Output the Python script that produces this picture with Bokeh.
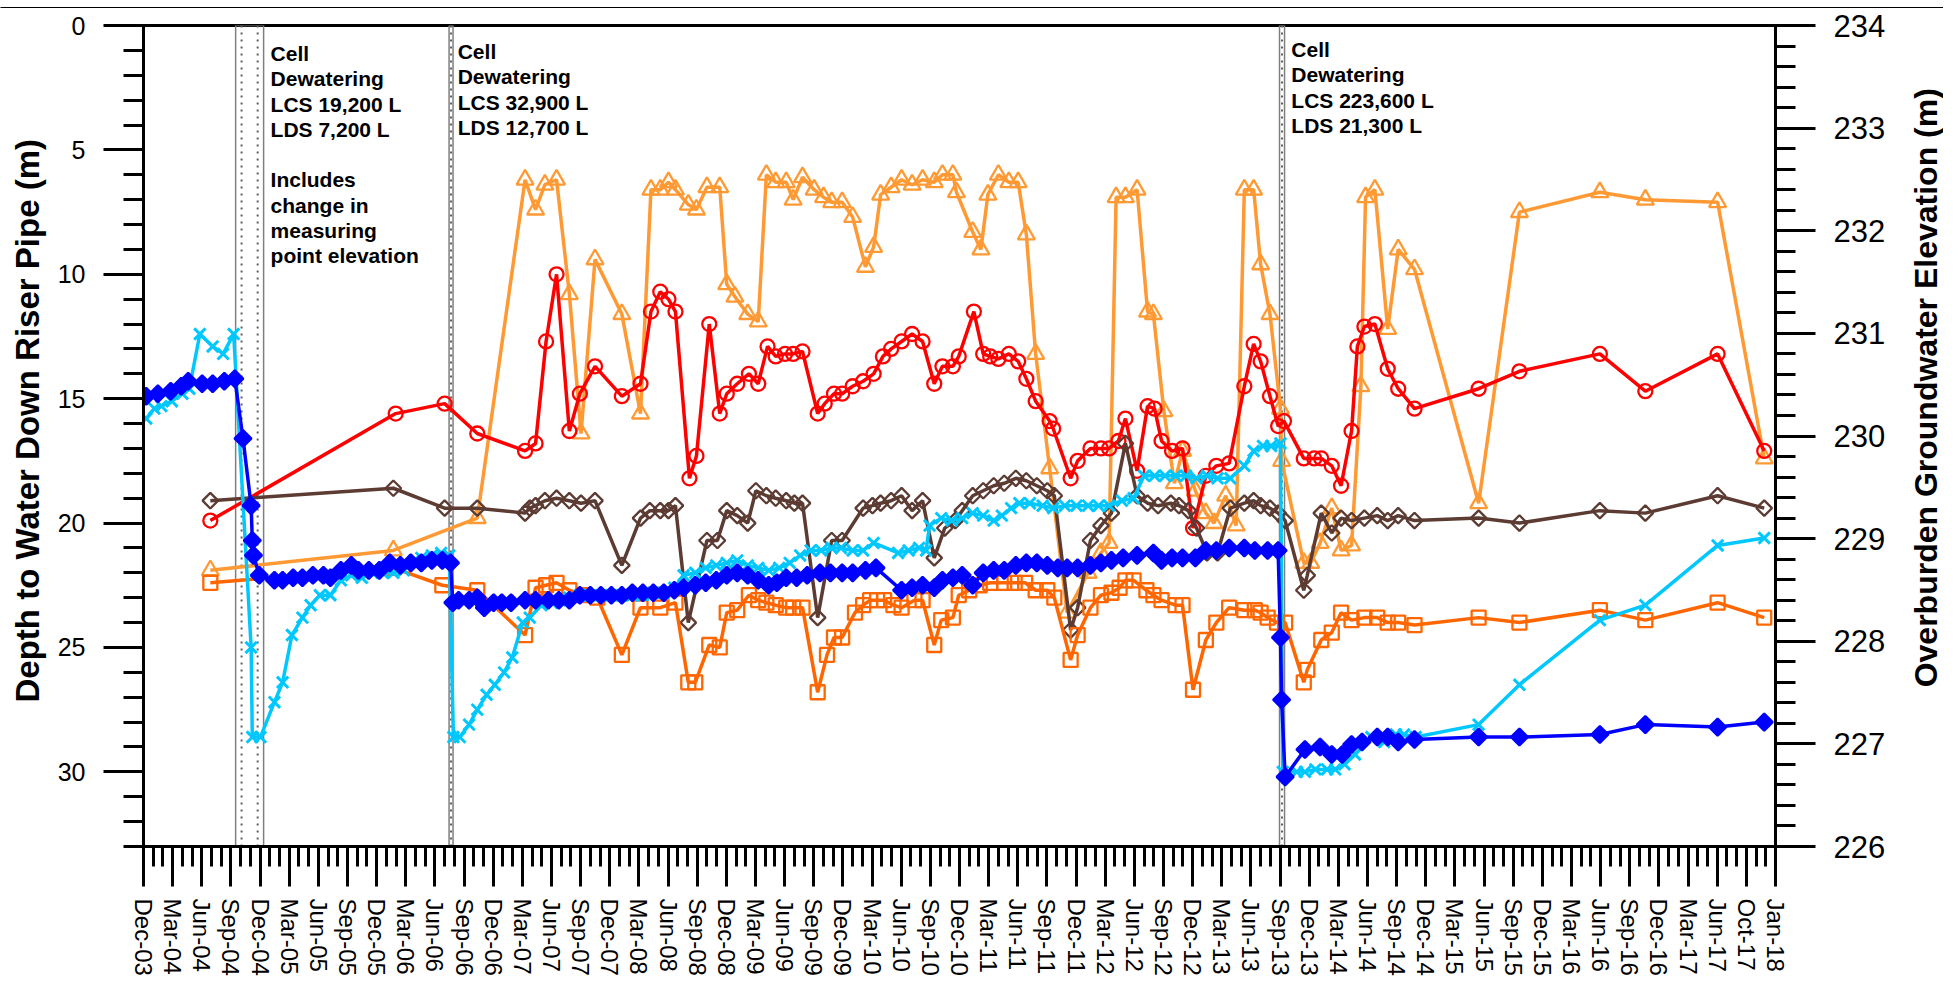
import math
from bokeh.plotting import figure
from bokeh.models import Range1d, LinearAxis, FixedTicker, Label
from bokeh.layouts import row, column
from bokeh.core.properties import value
from bokeh.embed import file_html
from bokeh.resources import INLINE

# ---------------- data (decimal year, depth in m) ----------------
x_labels = ["Dec-03", "Mar-04", "Jun-04", "Sep-04", "Dec-04", "Mar-05", "Jun-05", "Sep-05",
            "Dec-05", "Mar-06", "Jun-06", "Sep-06", "Dec-06", "Mar-07", "Jun-07", "Sep-07",
            "Dec-07", "Mar-08", "Jun-08", "Sep-08", "Dec-08", "Mar-09", "Jun-09", "Sep-09",
            "Dec-09", "Mar-10", "Jun-10", "Sep-10", "Dec-10", "Mar-11", "Jun-11", "Sep-11",
            "Dec-11", "Mar-12", "Jun-12", "Sep-12", "Dec-12", "Mar-13", "Jun-13", "Sep-13",
            "Dec-13", "Mar-14", "Jun-14", "Sep-14", "Dec-14", "Mar-15", "Jun-15", "Sep-15",
            "Dec-15", "Mar-16", "Jun-16", "Sep-16", "Dec-16", "Mar-17", "Jun-17", "Oct-17",
            "Jan-18"]
depth_ticks = [0, 5, 10, 15, 20, 25, 30]
elev_ticks = [226, 227, 228, 229, 230, 231, 232, 233, 234]
left_title = "Depth to Water Down Riser Pipe (m)"
right_title = "Overburden Groundwater Elevation (m)"

tri_pts = [(2004.49,21.9),(2006.06,21.1),(2006.78,19.8),(2007.19,6.2),(2007.28,7.4),(2007.36,6.4),
    (2007.46,6.2),(2007.57,10.8),(2007.67,16.4),(2007.79,9.4),(2008.02,11.6),(2008.18,15.6),(2008.27,6.6),
    (2008.35,6.6),(2008.42,6.3),(2008.48,6.6),(2008.59,7.2),(2008.66,7.4),(2008.75,6.5),(2008.86,6.5),
    (2008.92,10.4),(2008.99,10.9),(2009.10,11.6),(2009.19,11.9),(2009.26,6.0),(2009.34,6.3),(2009.43,6.3),
    (2009.49,7.0),(2009.57,6.1),(2009.67,6.6),(2009.75,6.9),(2009.82,7.1),(2009.91,7.1),(2010.00,7.7),
    (2010.11,9.7),(2010.18,8.9),(2010.24,6.8),(2010.33,6.5),(2010.42,6.2),(2010.51,6.4),(2010.60,6.2),
    (2010.70,6.3),(2010.77,6.0),(2010.86,6.0),(2010.89,6.7),(2011.03,8.3),(2011.10,9.0),(2011.16,6.8),
    (2011.25,6.0),(2011.34,6.3),(2011.42,6.3),(2011.49,8.4),(2011.57,13.2),(2011.69,17.8),(2011.84,23.6),
    (2012.02,22.0),(2012.13,21.2),(2012.20,20.8),(2012.26,6.9),(2012.34,6.9),(2012.44,6.6),(2012.53,11.5),
    (2012.58,11.6),(2012.67,15.5),(2012.76,18.4),(2012.83,17.1),(2012.94,18.7),(2013.03,19.6),(2013.10,20.0),
    (2013.20,18.9),(2013.29,20.1),(2013.36,6.6),(2013.44,6.6),(2013.50,9.6),(2013.58,11.6),(2013.67,15.4),
    (2013.68,17.5),(2013.87,21.6),(2013.93,21.6),(2014.01,20.8),(2014.11,19.4),(2014.19,21.1),(2014.28,20.9),
    (2014.36,14.5),(2014.40,6.9),(2014.48,6.6),(2014.59,12.2),(2014.68,9.0),(2014.82,9.8),(2015.37,19.2),
    (2015.72,7.5),(2016.41,6.7),(2016.80,7.0),(2017.42,7.1),(2017.82,17.4)]

red_pts = [(2004.49,19.9),(2006.08,15.6),(2006.50,15.2),(2006.78,16.4),(2007.19,17.1),(2007.28,16.8),
    (2007.37,12.7),(2007.46,10.0),(2007.57,16.3),(2007.66,14.8),(2007.79,13.7),(2008.02,14.9),(2008.18,14.4),
    (2008.27,11.5),(2008.35,10.7),(2008.42,11.0),(2008.48,11.5),(2008.60,18.2),(2008.66,17.3),(2008.77,12.0),
    (2008.86,15.6),(2008.92,14.8),(2009.01,14.4),(2009.11,14.0),(2009.19,14.4),(2009.27,12.9),(2009.34,13.3),
    (2009.42,13.2),(2009.49,13.2),(2009.57,13.1),(2009.70,15.6),(2009.76,15.2),(2009.84,14.8),(2009.91,14.8),
    (2010.00,14.5),(2010.09,14.3),(2010.18,14.0),(2010.26,13.3),(2010.33,13.0),(2010.42,12.7),(2010.51,12.4),
    (2010.60,12.7),(2010.70,14.4),(2010.77,13.7),(2010.86,13.7),(2010.91,13.3),(2011.04,11.5),(2011.12,13.2),
    (2011.18,13.3),(2011.25,13.4),(2011.34,13.2),(2011.42,13.5),(2011.49,14.2),(2011.57,15.1),(2011.69,15.9),
    (2011.72,16.2),(2011.87,18.2),(2011.93,17.5),(2012.04,17.0),(2012.13,17.0),(2012.20,17.0),(2012.28,16.7),
    (2012.34,15.8),(2012.44,17.9),(2012.53,15.3),(2012.59,15.4),(2012.65,16.7),(2012.74,17.1),(2012.83,17.0),
    (2012.92,20.2),(2013.03,18.1),(2013.12,17.7),(2013.23,17.6),(2013.36,14.5),(2013.44,12.8),(2013.50,13.5),
    (2013.58,14.9),(2013.65,16.1),(2013.70,15.9),(2013.87,17.4),(2013.96,17.4),(2014.02,17.4),(2014.11,17.7),
    (2014.19,18.5),(2014.28,16.3),(2014.33,12.9),(2014.39,12.1),(2014.48,12.0),(2014.59,13.8),(2014.68,14.6),
    (2014.82,15.4),(2015.37,14.6),(2015.72,13.9),(2016.41,13.2),(2016.80,14.7),(2017.42,13.2),(2017.82,17.1)]

brown_pts = [(2004.49,19.1),(2006.06,18.6),(2006.50,19.4),(2006.78,19.4),(2007.19,19.6),(2007.23,19.4),
    (2007.28,19.3),(2007.36,19.1),(2007.46,19.0),(2007.57,19.1),(2007.67,19.2),(2007.79,19.1),(2008.02,21.7),
    (2008.18,19.8),(2008.26,19.5),(2008.35,19.5),(2008.42,19.5),(2008.48,19.3),(2008.59,24.0),(2008.75,20.7),
    (2008.84,20.7),(2008.92,19.5),(2009.01,19.7),(2009.10,20.0),(2009.17,18.7),(2009.26,18.9),(2009.34,19.0),
    (2009.43,19.1),(2009.50,19.2),(2009.57,19.2),(2009.70,23.8),(2009.82,20.7),(2009.91,20.7),(2010.09,19.4),
    (2010.17,19.3),(2010.24,19.2),(2010.33,19.1),(2010.42,18.9),(2010.51,19.5),(2010.60,19.1),(2010.70,21.4),
    (2010.79,20.2),(2010.88,19.9),(2010.94,19.5),(2011.03,18.9),(2011.12,18.7),(2011.21,18.5),(2011.30,18.4),
    (2011.40,18.2),(2011.49,18.3),(2011.58,18.5),(2011.67,18.7),(2011.73,18.9),(2011.87,24.3),(2011.93,23.4),
    (2012.04,20.7),(2012.13,20.1),(2012.22,19.6),(2012.34,16.8),(2012.44,18.9),(2012.53,19.2),(2012.62,19.3),
    (2012.73,19.2),(2012.80,19.3),(2012.88,19.5),(2012.95,20.2),(2013.04,21.2),(2013.13,21.2),(2013.24,19.4),
    (2013.36,19.2),(2013.44,19.1),(2013.50,19.3),(2013.58,19.4),(2013.65,19.6),(2013.71,19.9),(2013.87,22.7),
    (2013.90,22.1),(2014.02,19.6),(2014.11,20.4),(2014.19,19.8),(2014.28,19.9),(2014.39,19.8),(2014.50,19.7),
    (2014.59,19.9),(2014.68,19.7),(2014.82,19.9),(2015.37,19.8),(2015.72,20.0),(2016.41,19.5),(2016.80,19.6),
    (2017.42,18.9),(2017.82,19.4)]

square_pts = [(2004.49,22.4),(2006.06,21.8),(2006.48,22.5),(2006.78,22.7),(2007.19,24.5),(2007.28,22.6),
    (2007.37,22.5),(2007.46,22.4),(2007.57,22.7),(2007.69,22.9),(2007.81,23.0),(2008.02,25.3),(2008.18,23.4),
    (2008.35,23.4),(2008.48,23.2),(2008.59,26.4),(2008.65,26.4),(2008.77,24.9),(2008.86,25.0),(2008.92,23.6),
    (2009.01,23.5),(2009.11,22.9),(2009.19,23.1),(2009.26,23.2),(2009.34,23.3),(2009.43,23.4),(2009.49,23.4),
    (2009.57,23.4),(2009.70,26.8),(2009.78,25.3),(2009.84,24.6),(2009.91,24.6),(2010.02,23.6),(2010.09,23.3),
    (2010.15,23.1),(2010.21,23.1),(2010.27,23.1),(2010.35,23.3),(2010.42,23.4),(2010.53,23.1),(2010.60,23.1),
    (2010.70,24.9),(2010.76,23.9),(2010.86,23.8),(2010.91,22.9),(2011.00,22.7),(2011.09,22.5),(2011.18,22.4),
    (2011.30,22.4),(2011.39,22.4),(2011.48,22.4),(2011.57,22.7),(2011.67,22.7),(2011.73,23.0),(2011.87,25.5),
    (2011.93,24.5),(2012.04,23.4),(2012.13,22.9),(2012.22,22.8),(2012.29,22.6),(2012.34,22.3),(2012.41,22.3),
    (2012.52,22.7),(2012.58,22.9),(2012.65,23.1),(2012.77,23.3),(2012.83,23.3),(2012.92,26.7),(2013.03,24.7),
    (2013.12,24.0),(2013.23,23.4),(2013.36,23.5),(2013.45,23.5),(2013.50,23.6),(2013.56,23.8),(2013.64,24.0),
    (2013.71,24.0),(2013.87,26.4),(2013.90,25.9),(2014.02,24.7),(2014.11,24.4),(2014.19,23.6),(2014.28,23.9),
    (2014.39,23.8),(2014.50,23.8),(2014.59,24.0),(2014.68,24.0),(2014.82,24.1),(2015.37,23.8),(2015.72,24.0),
    (2016.41,23.5),(2016.80,23.9),(2017.42,23.2),(2017.82,23.8)]

cyan_pts = [(2003.94,15.8),(2004.01,15.4),(2004.07,15.3),(2004.16,15.1),(2004.25,14.8),(2004.31,14.6),
    (2004.40,12.4),(2004.51,12.9),(2004.60,13.2),(2004.69,12.4),(2004.84,25.0),(2004.85,28.6),(2004.92,28.6),
    (2005.04,27.2),(2005.11,26.4),(2005.19,24.5),(2005.28,23.8),(2005.35,23.3),(2005.43,22.9),(2005.52,22.9),
    (2005.61,22.3),(2005.70,22.1),(2005.79,22.2),(2005.88,22.0),(2005.97,22.0),(2006.06,22.0),(2006.15,21.9),
    (2006.24,21.5),(2006.30,21.4),(2006.39,21.3),(2006.47,21.2),(2006.54,21.3),(2006.575,28.6),(2006.63,28.6),
    (2006.71,28.1),(2006.78,27.5),(2006.86,26.9),(2006.93,26.5),(2007.01,26.0),(2007.08,25.4),(2007.17,24.0),
    (2007.23,23.8),(2007.33,23.3),(2007.42,23.2),(2007.49,23.1),(2007.57,23.0),(2007.66,22.9),(2007.75,22.9),
    (2007.84,22.9),(2007.93,22.9),(2008.02,22.9),(2008.11,22.9),(2008.20,22.9),(2008.29,22.8),(2008.38,22.8),
    (2008.47,22.6),(2008.55,22.1),(2008.65,22.0),(2008.74,21.8),(2008.83,21.7),(2008.92,21.6),(2009.01,21.5),
    (2009.10,21.7),(2009.19,21.8),(2009.28,21.9),(2009.37,21.8),(2009.46,21.6),(2009.55,21.3),(2009.64,21.1),
    (2009.73,21.1),(2009.82,21.0),(2009.90,21.0),(2010.00,21.1),(2010.09,21.1),(2010.18,20.8),(2010.39,21.2),
    (2010.48,21.1),(2010.57,21.0),(2010.63,21.1),(2010.66,20.1),(2010.76,19.8),(2010.85,19.9),(2010.94,19.8),
    (2011.03,19.6),(2011.12,19.7),(2011.21,19.9),(2011.28,19.7),(2011.36,19.4),(2011.43,19.2),(2011.52,19.2),
    (2011.63,19.3),(2011.72,19.4),(2011.82,19.3),(2011.92,19.3),(2012.02,19.3),(2012.11,19.3),(2012.20,19.3),
    (2012.31,19.1),(2012.41,19.0),(2012.50,18.1),(2012.59,18.1),(2012.68,18.1),(2012.77,18.1),(2012.86,18.1),
    (2012.95,18.2),(2013.04,18.1),(2013.13,18.2),(2013.24,18.2),(2013.36,17.7),(2013.44,17.1),(2013.52,16.9),
    (2013.59,16.9),(2013.67,16.8),(2013.69,30.0),(2013.81,30.0),(2013.88,30.0),(2013.97,29.9),(2014.07,29.9),
    (2014.14,29.9),(2014.22,29.7),(2014.31,29.3),(2014.45,28.6),(2014.56,28.8),(2014.66,28.5),(2014.73,28.5),
    (2014.83,28.6),(2015.37,28.1),(2015.72,26.5),(2016.41,23.9),(2016.80,23.3),(2017.42,20.9),(2017.82,20.6)]

blue_pts = [(2003.94,14.9),(2004.04,14.8),(2004.15,14.7),(2004.24,14.5),(2004.30,14.3),(2004.42,14.4),
    (2004.51,14.4),(2004.61,14.3),(2004.70,14.2),(2004.77,16.6),(2004.84,19.3),(2004.85,20.7),(2004.86,21.3),
    (2004.91,22.1),(2005.04,22.3),(2005.11,22.3),(2005.20,22.2),(2005.28,22.2),(2005.37,22.1),(2005.46,22.1),
    (2005.52,22.2),(2005.61,21.9),(2005.70,21.7),(2005.76,21.9),(2005.85,21.9),(2005.94,21.9),(2006.03,21.6),
    (2006.12,21.7),(2006.21,21.6),(2006.30,21.6),(2006.39,21.5),(2006.48,21.5),(2006.55,21.6),(2006.57,23.2),
    (2006.62,23.1),(2006.71,23.1),(2006.78,23.0),(2006.84,23.4),(2006.92,23.2),(2006.99,23.2),(2007.07,23.2),
    (2007.19,23.1),(2007.28,23.1),(2007.39,23.1),(2007.48,23.1),(2007.57,23.1),(2007.66,22.9),(2007.75,22.9),
    (2007.84,22.9),(2007.93,22.9),(2008.02,22.9),(2008.11,22.8),(2008.20,22.8),(2008.29,22.8),(2008.38,22.8),
    (2008.47,22.7),(2008.55,22.6),(2008.65,22.5),(2008.74,22.4),(2008.83,22.3),(2008.92,22.1),(2009.01,22.0),
    (2009.10,22.1),(2009.19,22.3),(2009.28,22.5),(2009.35,22.4),(2009.43,22.2),(2009.52,22.2),(2009.61,22.1),
    (2009.72,22.0),(2009.81,22.0),(2009.91,22.0),(2010.00,22.0),(2010.11,21.9),(2010.20,21.8),(2010.42,22.7),
    (2010.51,22.6),(2010.60,22.5),(2010.70,22.6),(2010.77,22.3),(2010.86,22.2),(2010.94,22.1),(2011.03,22.5),
    (2011.12,22.0),(2011.21,21.9),(2011.30,21.9),(2011.40,21.7),(2011.49,21.6),(2011.58,21.6),(2011.67,21.7),
    (2011.76,21.8),(2011.84,21.8),(2011.93,21.8),(2012.04,21.7),(2012.13,21.6),(2012.22,21.5),(2012.32,21.4),
    (2012.44,21.3),(2012.58,21.2),(2012.65,21.5),(2012.74,21.4),(2012.83,21.4),(2012.94,21.4),(2013.03,21.1),
    (2013.12,21.1),(2013.23,21.0),(2013.36,21.0),(2013.45,21.1),(2013.56,21.1),(2013.65,21.1),(2013.67,24.6),
    (2013.68,27.1),(2013.71,30.2),(2013.88,29.1),(2014.01,29.0),(2014.11,29.3),(2014.20,29.3),(2014.28,28.9),
    (2014.37,28.8),(2014.50,28.6),(2014.59,28.6),(2014.68,28.8),(2014.82,28.7),(2015.37,28.6),(2015.72,28.6),
    (2016.41,28.5),(2016.80,28.1),(2017.42,28.2),(2017.82,28.0)]

# dewatering events (decimal years): band edges and inner dotted lines
band_left = [2004.707, 2006.538, 2013.662]
band_right = [2004.947, 2006.572, 2013.705]
band_dots = [2004.758, 2004.896, 2006.555, 2013.683]
notes = ["Cell\nDewatering\nLCS 19,200 L\nLDS 7,200 L\n\nIncludes\nchange in\nmeasuring\npoint elevation",
         "Cell\nDewatering\nLCS 32,900 L\nLDS 12,700 L",
         "Cell\nDewatering\nLCS 223,600 L\nLDS 21,300 L"]
note_x = [2005.007, 2006.612, 2013.763]
note_y = [0.66, 0.58, 0.50]

X0 = 2003 + 11 / 12  # Dec-03


def months(yrs):
    return [(y - X0) * 12 for y in yrs]


FONT = "Liberation Sans"
H = 970           # height of the main row (a thin strip of 8px sits above it)
W_L, W_P, W_R = 50, 1855, 38


def bare(width, height):
    f = figure(width=width, height=height, output_backend="svg", toolbar_location=None,
               x_range=Range1d(0, width), y_range=Range1d(0, height),
               x_axis_type=None, y_axis_type=None, min_border=0)
    f.outline_line_color = None
    f.xgrid.visible = False
    f.ygrid.visible = False
    return f


# top frame strip of the picture
strip = bare(W_L + W_P + W_R, 8)
strip.quad(left=[0], right=[W_L + W_P + W_R], bottom=[1], top=[5], color="black")

# left title
pl = bare(W_L, H)
pl.text(x=[27], y=[H - 467], text=[left_title], angle=math.pi / 2, text_align="center",
        text_baseline="middle", text_font=value(FONT), text_font_size=value("33px"),
        text_font_style="bold", text_color="black")

# right title
pr = bare(W_R, H)
pr.text(x=[20], y=[H - 428], text=[right_title], angle=math.pi / 2, text_align="center",
        text_baseline="middle", text_font=value(FONT), text_font_size=value("32px"),
        text_font_style="bold", text_color="black")

p = figure(width=W_P, height=H, output_backend="svg", toolbar_location=None,
           x_range=Range1d(0, 168), y_range=Range1d(33, 0),
           min_border_left=93, min_border_right=130, min_border_top=17, min_border_bottom=130)
p.xgrid.visible = False
p.ygrid.visible = False
p.outline_line_color = "black"
p.outline_line_width = 3
p.outline_line_alpha = 1.0

# ---- dewatering bands ----
bl = months(band_left)
br = months(band_right)
p.quad(left=bl, right=br, top=[0] * 3, bottom=[33] * 3, fill_color="white", fill_alpha=0,
       line_color="#7f7f7f", line_width=1.5)
bd = months(band_dots)
p.segment(x0=bd, x1=bd, y0=[0] * len(bd), y1=[33] * len(bd), line_color="#606060",
          line_width=2, line_dash="2 5")

# ---- series ----
series = [
    (tri_pts, "#FF9933", "triangle", 17, None, 0),
    (red_pts, "#FF0000", "circle", 14, None, 0),
    (brown_pts, "#5C3B33", "square", 11, None, math.pi / 4),
    (square_pts, "#FF6600", "square", 14, None, 0),
    (cyan_pts, "#00C8FF", "x", 16, None, 0),
    (blue_pts, "#0000FF", "square", 12, "#0000FF", math.pi / 4),
]
for pts, col, mk, sz, fill, ang in series:
    xs = months([a for a, b in pts])
    ys = [b for a, b in pts]
    p.line(xs, ys, line_color=col, line_width=3.5)
    p.scatter(xs, ys, marker=mk, size=sz, angle=ang, line_color=col,
              line_width=3 if mk == "x" else 2.3,
              fill_color=fill, fill_alpha=1.0 if fill else 0)

# ---- notes ----
for t, x, y in zip(notes, months(note_x), note_y):
    p.add_layout(Label(x=x, y=y, text=t, text_font=FONT, text_font_size="21px",
                       text_font_style="bold", text_color="black", text_align="left",
                       text_baseline="top", text_line_height=1.1))

# ---- axes ----
tick_style = dict(axis_line_width=3, axis_line_color="black",
                  major_tick_line_width=3, minor_tick_line_width=3,
                  major_tick_line_color="black", minor_tick_line_color="black",
                  major_tick_in=0, major_tick_out=40, minor_tick_in=0, minor_tick_out=20,
                  major_label_text_font=FONT, major_label_text_color="black")

xa = p.xaxis[0]
xa.ticker = FixedTicker(ticks=list(range(0, 169, 3)), minor_ticks=list(range(0, 169)))
xa.major_label_overrides = {3 * i: lab for i, lab in enumerate(x_labels)}
xa.major_label_orientation = -math.pi / 2
xa.major_label_text_font_size = "24px"
xa.major_label_standoff = 12
for k, v in tick_style.items():
    setattr(xa, k, v)

ya = p.yaxis[0]
ya.ticker = FixedTicker(ticks=depth_ticks, minor_ticks=list(range(0, 34)))
ya.major_label_text_font_size = "25px"
ya.major_label_standoff = 18
for k, v in tick_style.items():
    setattr(ya, k, v)

p.extra_y_ranges = {"elev": Range1d(226, 234)}
ra = LinearAxis(y_range_name="elev",
                ticker=FixedTicker(ticks=elev_ticks, minor_ticks=[226 + 0.2 * k for k in range(41)]))
ra.major_label_text_font_size = "31px"
ra.major_label_standoff = 18
for k, v in tick_style.items():
    setattr(ra, k, v)
p.add_layout(ra, "right")

layout = column(strip, row(pl, p, pr))
open("out.html", "w").write(file_html(layout, INLINE))
